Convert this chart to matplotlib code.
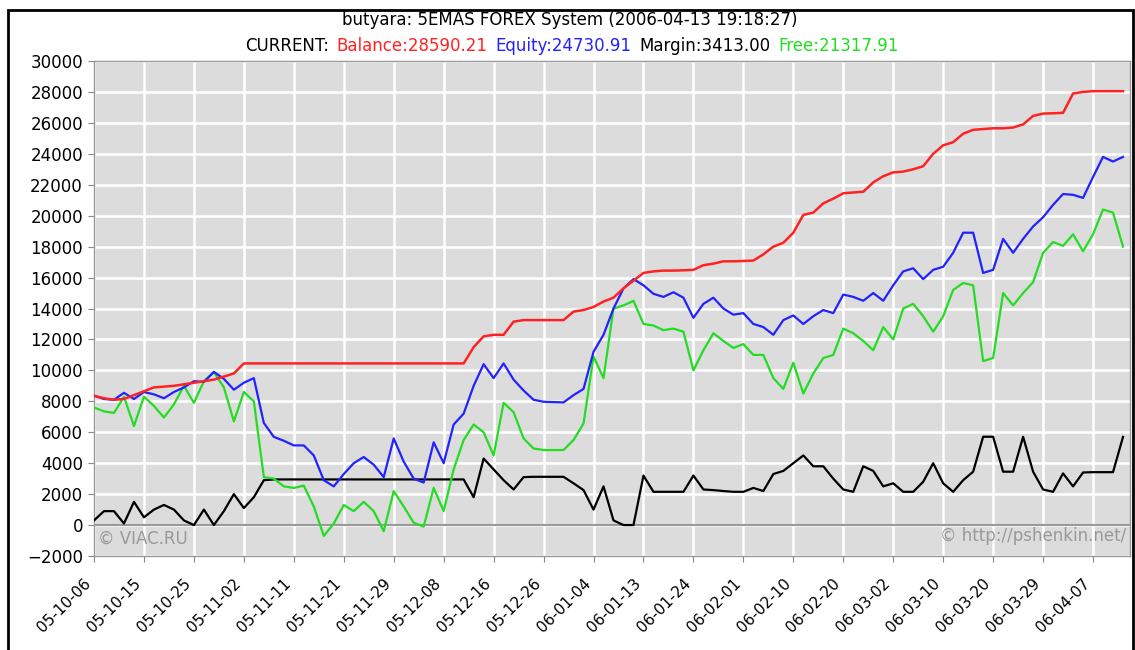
import numpy as np
import matplotlib
matplotlib.use('Agg')
import matplotlib.pyplot as plt
from matplotlib.patches import Rectangle

# data, one sample every ~10 px (5 samples per date tick)
date_labels = ['05-10-06', '05-10-15', '05-10-25', '05-11-02', '05-11-11', '05-11-21', '05-11-29',
               '05-12-08', '05-12-16', '05-12-26', '06-01-04', '06-01-13', '06-01-24', '06-02-01',
               '06-02-10', '06-02-20', '06-03-02', '06-03-10', '06-03-20', '06-03-29', '06-04-07']

balance = [8350, 8200, 8100, 8150, 8400, 8650, 8900, 8950, 9000, 9100,
           9200, 9300, 9400, 9600, 9800, 10450, 10450, 10450, 10450, 10450,
           10450, 10450, 10450, 10450, 10450, 10450, 10450, 10450, 10450, 10450,
           10450, 10450, 10450, 10450, 10450, 10450, 10450, 10450, 11500, 12200,
           12300, 12300, 13150, 13250, 13250, 13250, 13250, 13250, 13800, 13900,
           14100, 14450, 14700, 15300, 15800, 16300, 16400, 16450, 16450, 16470,
           16500, 16800, 16900, 17050, 17050, 17070, 17100, 17500, 18000, 18250,
           18900, 20050, 20200, 20800, 21100, 21450, 21500, 21550, 22150, 22550,
           22800, 22850, 23000, 23200, 24000, 24550, 24750, 25300, 25550, 25600,
           25650, 25650, 25700, 25900, 26450, 26600, 26620, 26650, 27900, 28000,
           28050, 28050, 28050, 28050]

equity = [8370, 8150, 8100, 8550, 8150, 8600, 8450, 8200, 8600, 8900,
          9300, 9250, 9900, 9450, 8750, 9200, 9500, 6600, 5700, 5450,
          5150, 5150, 4500, 2900, 2500, 3300, 4000, 4400, 3900, 3100,
          5600, 4100, 3000, 2750, 5350, 4000, 6500, 7200, 9000, 10400,
          9500, 10450, 9400, 8700, 8100, 7970, 7950, 7930, 8400, 8800,
          11200, 12300, 14000, 15300, 15900, 15500, 14950, 14750, 15050, 14700,
          13400, 14300, 14700, 14000, 13600, 13700, 13000, 12800, 12300, 13250,
          13550, 13000, 13500, 13900, 13700, 14900, 14750, 14500, 15000, 14500,
          15500, 16400, 16600, 15900, 16500, 16700, 17600, 18900, 18900, 16300,
          16500, 18500, 17600, 18500, 19300, 19900, 20700, 21400, 21350, 21150,
          22500, 23800, 23500, 23800]

margin = [300, 900, 900, 100, 1500, 500, 1000, 1300, 1000, 300,
          0, 1000, 0, 900, 2000, 1100, 1800, 2900, 2950, 2950,
          2950, 2950, 2950, 2950, 2950, 2950, 2950, 2950, 2950, 2950,
          2950, 2950, 2950, 2950, 2950, 2950, 2950, 2950, 1800, 4300,
          3600, 2900, 2300, 3100, 3120, 3120, 3120, 3120, 2700, 2260,
          1000, 2500, 300, 0, 0, 3200, 2150, 2150, 2150, 2150,
          3200, 2300, 2260, 2200, 2150, 2150, 2400, 2200, 3300, 3500,
          4000, 4500, 3800, 3800, 3000, 2300, 2150, 3800, 3500, 2500,
          2700, 2150, 2150, 2800, 4000, 2700, 2150, 2900, 3450, 5710,
          5710, 3450, 3450, 5710, 3450, 2300, 2150, 3340, 2500, 3400,
          3420, 3420, 3420, 5700]

free = [7600, 7350, 7250, 8300, 6400, 8300, 7700, 6950, 7800, 9000,
        7900, 9300, 9900, 8900, 6700, 8600, 8000, 3100, 3000, 2500,
        2400, 2550, 1200, -700, 100, 1300, 900, 1500, 900, -400,
        2200, 1200, 150, -100, 2400, 900, 3600, 5500, 6500, 6000,
        4500, 7900, 7300, 5600, 4950, 4850, 4850, 4850, 5500, 6570,
        10900, 9500, 14000, 14200, 14500, 13000, 12900, 12600, 12700, 12500,
        10000, 11300, 12400, 11900, 11450, 11700, 11000, 11000, 9500, 8800,
        10500, 8500, 9800, 10800, 11000, 12700, 12400, 11900, 11300, 12800,
        12000, 14000, 14300, 13500, 12500, 13500, 15200, 15650, 15500, 10600,
        10800, 15000, 14200, 15000, 15700, 17600, 18300, 18050, 18800, 17700,
        18800, 20400, 20200, 18000]

title = 'butyara: 5EMAS FOREX System (2006-04-13 19:18:27)'
current_parts = ['CURRENT:', 'Balance:28590.21', 'Equity:24730.91', 'Margin:3413.00', 'Free:21317.91']

RED, BLUE, GREEN = '#ff2222', '#2222ff', '#22dd22'
FS = 12

W, H = 1135, 650
fig = plt.figure(figsize=(W / 100, H / 100), dpi=100)
ax = fig.add_axes([94 / W, 1 - 556 / H, (1130 - 94) / W, (556 - 61) / H])
ax.set_facecolor('#dcdcdc')

x = np.arange(len(balance))
ax.plot(x, margin, color='black', lw=1.6, zorder=3)
ax.plot(x, free, color=GREEN, lw=1.6, zorder=4)
ax.plot(x, equity, color=BLUE, lw=1.6, zorder=5)
ax.plot(x, balance, color=RED, lw=1.8, zorder=6)
ax.axhline(0, color='#999999', lw=1.5, zorder=2)

ax.set_xlim(0, 103.7)
ax.set_ylim(-2000, 30000)
ax.set_yticks(range(-2000, 30001, 2000))
ax.set_xticks(range(0, 5 * len(date_labels), 5))
ax.set_xticklabels(date_labels, rotation=45, ha='right', va='top', fontsize=11)
ax.tick_params(axis='y', labelsize=FS, length=4, color='#888888', pad=4)
ax.tick_params(axis='x', length=4, color='#888888', pad=10)
ax.grid(True, color='white', lw=1.8, zorder=1)
ax.set_axisbelow(True)
for s in ax.spines.values():
    s.set_color('#999999')
    s.set_linewidth(1)

ax.text(0.004, 0.016, '\u00a9 VIAC.RU', transform=ax.transAxes, color='#999999',
        fontsize=FS, ha='left', va='bottom', zorder=7)
ax.text(0.996, 0.022, '\u00a9 http://pshenkin.net/', transform=ax.transAxes, color='#999999',
        fontsize=FS, ha='right', va='bottom', zorder=7)

# title lines
fig.text(570 / W, 1 - 20 / H, title, ha='center', va='center', fontsize=FS)

colors = ['black', RED, BLUE, 'black', GREEN]
fig.canvas.draw()
r = fig.canvas.get_renderer()
gap = 8
widths = []
for s in current_parts:
    t = fig.text(0, 0, s, fontsize=FS)
    widths.append(t.get_window_extent(r).width)
    t.remove()
total = sum(widths) + gap * (len(widths) - 1)
xpos = 572 - total / 2
for s, c, w in zip(current_parts, colors, widths):
    fig.text(xpos / W, 1 - 46 / H, s, color=c, fontsize=FS, ha='left', va='center')
    xpos += w + gap

# outer frame
fig.patches.append(Rectangle((8 / W, -0.01), (1133 - 8) / W, 1 - 10 / H + 0.01,
                             transform=fig.transFigure, fill=False, edgecolor='black', lw=2))

fig.savefig('out.png', dpi=100)
